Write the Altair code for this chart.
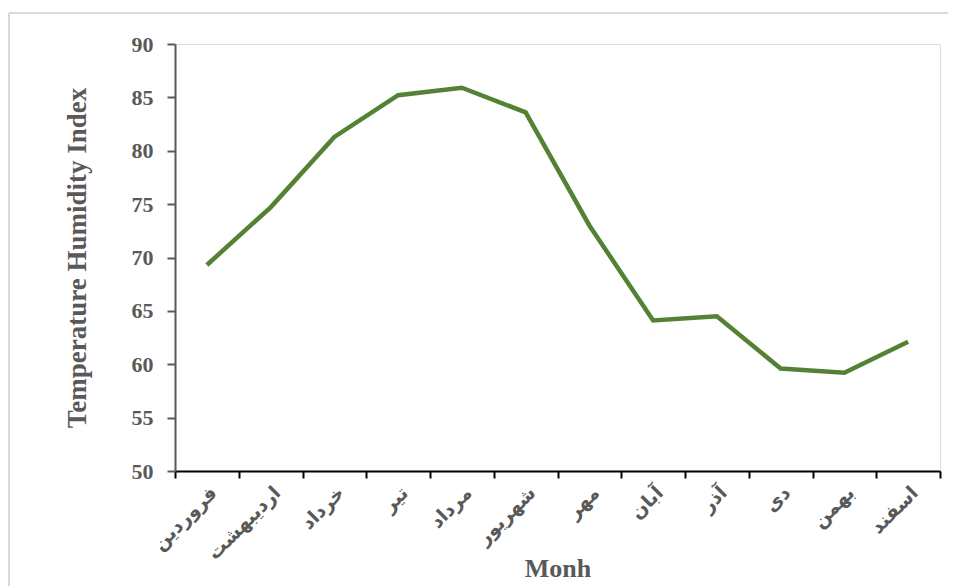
import altair as alt
import pandas as pd

months = ["فروردین", "اردیبهشت", "خرداد", "تیر", "مرداد", "شهریور",
          "مهر", "آبان", "آذر", "دی", "بهمن", "اسفند"]
thi = [69.3, 74.7, 81.3, 85.2, 85.9, 83.6, 73.0, 64.1, 64.5, 59.6, 59.2, 62.1]
y_ticks = [50, 55, 60, 65, 70, 75, 80, 85, 90]

df = pd.DataFrame({"month": months, "thi": thi})

W, H = 765, 427
GRAY = "#595959"

x_enc = alt.X(
    "month:N", sort=months, bandPosition=0.5,
    scale=alt.Scale(type="band", paddingInner=0, paddingOuter=0),
    axis=alt.Axis(
        title="Monh", titleFont="Liberation Serif", titleFontSize=26,
        titleFontWeight="bold", titleColor=GRAY,
        titleX=W / 2, titleY=105, titleBaseline="alphabetic", titleAlign="center",
        labelAngle=-45, labelFont="DejaVu Sans", labelFontSize=19,
        labelFontWeight="bold", labelColor=GRAY, labelPadding=5,
        tickBand="extent", tickSize=7, tickWidth=2, tickColor="#000000",
        domainColor="#000000", domainWidth=2, grid=False,
    ),
)
y_enc = alt.Y(
    "thi:Q",
    scale=alt.Scale(domain=[50, 90], nice=False, zero=False),
    axis=alt.Axis(
        title="Temperature Humidity Index", titleFont="Liberation Serif",
        titleFontSize=27, titleFontWeight="bold", titleColor=GRAY,
        titleX=-84, titleY=H / 2, titleBaseline="bottom", titleAngle=270,
        titleAlign="center",
        values=y_ticks, labelFont="Liberation Serif", labelFontSize=22,
        labelFontWeight="bold", labelColor=GRAY, labelPadding=14,
        tickSize=8, tickWidth=2, tickColor=GRAY,
        domainColor=GRAY, domainWidth=2, grid=False,
    ),
)

line = alt.Chart(df).mark_line(color="#548235", strokeWidth=4.5).encode(
    x=x_enc, y=y_enc
)

one = pd.DataFrame({"f": [0]})
frame_top = alt.Chart(one).mark_rule(color="#d9d9d9", strokeWidth=2).encode(
    x=alt.value(-166), x2=alt.value(800), y=alt.value(-31)
)
frame_left = alt.Chart(one).mark_rule(color="#d9d9d9", strokeWidth=2).encode(
    x=alt.value(-166), y=alt.value(-31), y2=alt.value(700)
)

chart = alt.layer(frame_top, frame_left, line).properties(
    width=W, height=H,
    autosize=alt.AutoSizeParams(type="none"),
    padding={"left": 167, "top": 36, "right": 8, "bottom": 125},
).configure_view(stroke=None).configure(background="white")

chart.save("out.html", embed_options={"renderer": "svg", "actions": False})
